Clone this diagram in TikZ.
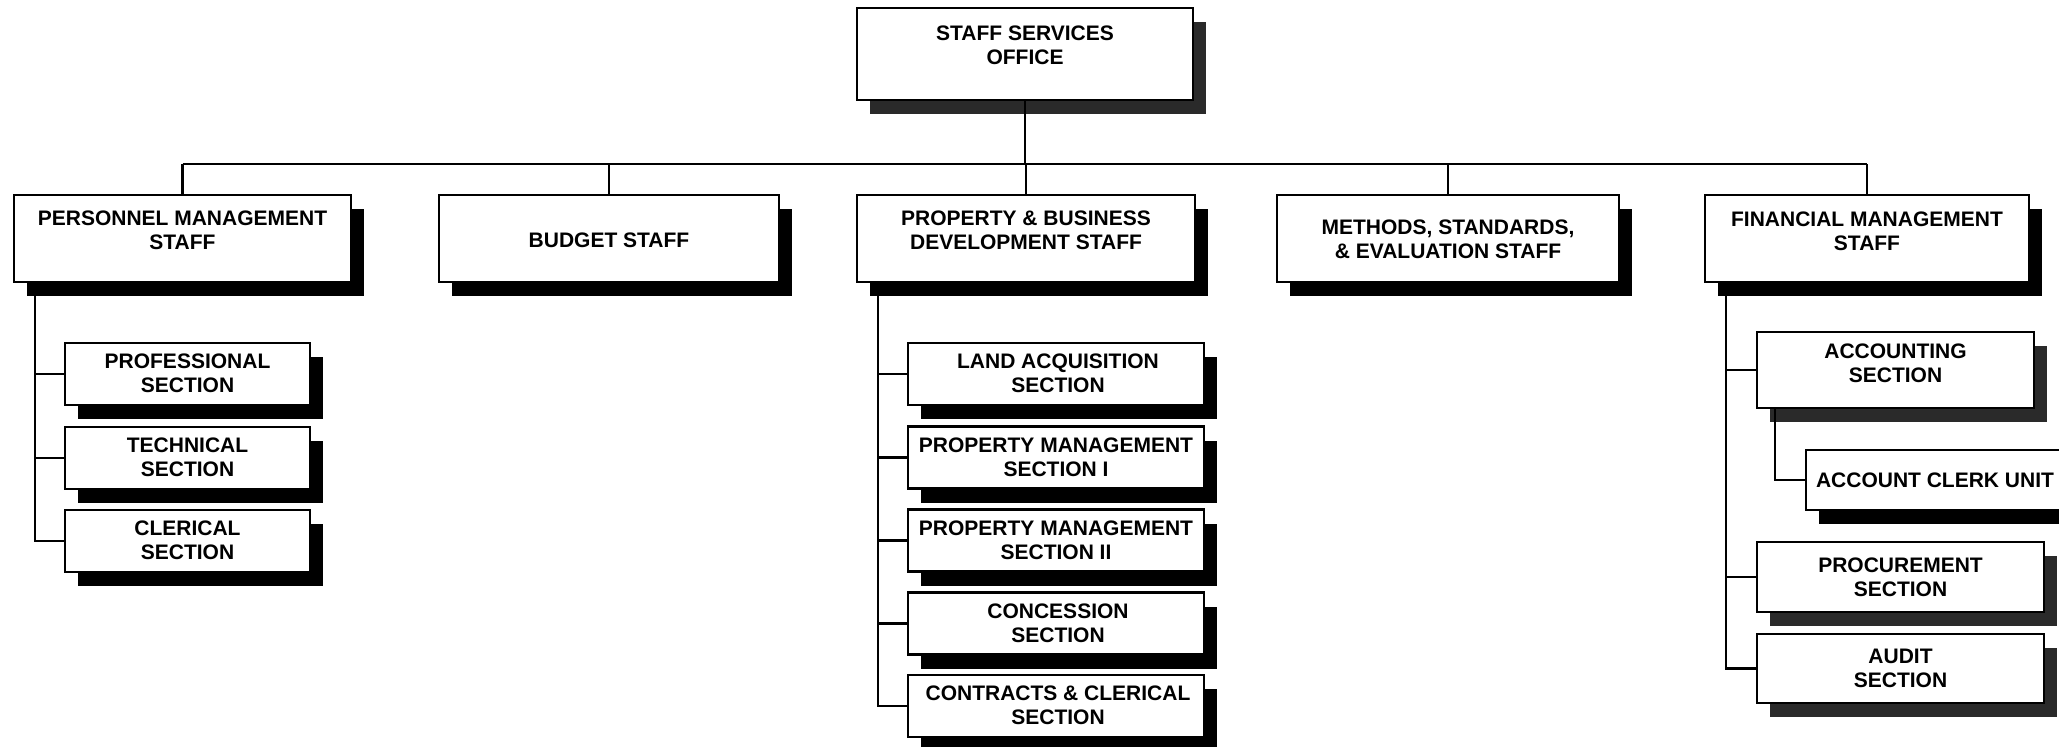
\documentclass[tikz,border=0pt]{standalone}
\usepackage{fontspec}
\setmainfont{Liberation Sans}
\usetikzlibrary{shadows}
\definecolor{shgray}{HTML}{2A2A2A}
\tikzset{
  orgbox/.style={draw=black, line width=2.6pt, fill=white, rectangle, inner sep=0pt,
    general shadow={fill=#1, shadow xshift=13pt, shadow yshift=-14pt}},
  orgbox/.default=black,
  lbl/.style={font=\fontsize{21}{24}\selectfont\bfseries, align=center, inner sep=0pt},
  conn/.style={line width=2.6pt},
}
\begin{document}
\begin{tikzpicture}[x=1pt,y=-1pt]
\useasboundingbox (0,0) rectangle (2059,747);
% top
\node[orgbox=shgray, minimum width=336pt, minimum height=92pt] (top) at (1025,54) {};
\node[lbl] (topt) at (1025,45.5) {STAFF SERVICES\\OFFICE};
% staff level
\node[orgbox, minimum width=337pt, minimum height=87pt] (pm) at (182.5,238.5) {};
\node[lbl] (pmt) at (182.5,230.5) {PERSONNEL MANAGEMENT\\STAFF};
\node[orgbox, minimum width=340pt, minimum height=87pt] (bs) at (609,238.5) {};
\node[lbl] (bst) at (609,240) {BUDGET STAFF};
\node[orgbox, minimum width=338pt, minimum height=87pt] (pb) at (1026,238.5) {};
\node[lbl] (pbt) at (1026,230.5) {PROPERTY \& BUSINESS\\DEVELOPMENT STAFF};
\node[orgbox, minimum width=342pt, minimum height=87pt] (ms) at (1448,238.5) {};
\node[lbl] (mst) at (1448,239) {METHODS, STANDARDS,\\\& EVALUATION STAFF};
\node[orgbox, minimum width=324pt, minimum height=87pt] (fm) at (1867,238.5) {};
\node[lbl] (fmt) at (1867,231) {FINANCIAL MANAGEMENT\\STAFF};
% personnel subs
\node[orgbox, minimum width=245pt, minimum height=62pt] (pr) at (187.5,374) {};
\node[lbl] (prt) at (187.5,373.5) {PROFESSIONAL\\SECTION};
\node[orgbox, minimum width=245pt, minimum height=62pt] (te) at (187.5,458) {};
\node[lbl] (tet) at (187.5,457.5) {TECHNICAL\\SECTION};
\node[orgbox, minimum width=245pt, minimum height=62pt] (cl) at (187.5,541) {};
\node[lbl] (clt) at (187.5,540.5) {CLERICAL\\SECTION};
% property subs
\node[orgbox, minimum width=296pt, minimum height=62pt] (la) at (1056,374) {};
\node[lbl] (lat) at (1058,373.5) {LAND ACQUISITION\\SECTION};
\node[orgbox, minimum width=296pt, minimum height=62pt] (p1) at (1056,457.5) {};
\node[lbl] (p1t) at (1056,457) {PROPERTY MANAGEMENT\\SECTION I};
\node[orgbox, minimum width=296pt, minimum height=62pt] (p2) at (1056,540.5) {};
\node[lbl] (p2t) at (1056,540) {PROPERTY MANAGEMENT\\SECTION II};
\node[orgbox, minimum width=296pt, minimum height=62pt] (co) at (1056,623.5) {};
\node[lbl] (cot) at (1058,623) {CONCESSION\\SECTION};
\node[orgbox, minimum width=296pt, minimum height=62pt] (cc) at (1056,706) {};
\node[lbl] (cct) at (1058,705.5) {CONTRACTS \& CLERICAL\\SECTION};
% financial subs
\node[orgbox=shgray, minimum width=277pt, minimum height=76pt] (ac) at (1895.5,370) {};
\node[lbl] (act) at (1895.5,363) {ACCOUNTING\\SECTION};
\node[orgbox, minimum width=258pt, minimum height=60pt] (cu) at (1935,480) {};
\node[lbl] (cut) at (1935,480) {ACCOUNT CLERK UNIT};
\node[orgbox=shgray, minimum width=287pt, minimum height=70pt] (pc) at (1900.5,577) {};
\node[lbl] (pct) at (1900.5,577) {PROCUREMENT\\SECTION};
\node[orgbox=shgray, minimum width=287pt, minimum height=69pt] (au) at (1900.5,668.5) {};
\node[lbl] (aut) at (1900.5,668) {AUDIT\\SECTION};
% connectors: top level bus
\coordinate (busL) at (182.5,164);
\coordinate (busR) at (1867,164);
\draw[conn] (busL) -- (busR);
\draw[conn] (top.south) -- (top.south |- busL);
\draw[conn] (pm.north) -- (pm.north |- busL);
\draw[conn] (bs.north) -- (bs.north |- busL);
\draw[conn] (pb.north) -- (pb.north |- busL);
\draw[conn] (ms.north) -- (ms.north |- busL);
\draw[conn] (fm.north) -- (fm.north |- busL);
% personnel trunk
\coordinate (pmtr) at (35,282);
\draw[conn] (pmtr) |- (cl.west);
\draw[conn] (pmtr |- pr.west) -- (pr.west);
\draw[conn] (pmtr |- te.west) -- (te.west);
% property trunk
\coordinate (pbtr) at (878,282);
\draw[conn] (pbtr) |- (cc.west);
\draw[conn] (pbtr |- la.west) -- (la.west);
\draw[conn] (pbtr |- p1.west) -- (p1.west);
\draw[conn] (pbtr |- p2.west) -- (p2.west);
\draw[conn] (pbtr |- co.west) -- (co.west);
% financial trunk
\coordinate (fmtr) at (1726,282);
\draw[conn] (fmtr) |- (au.west);
\draw[conn] (fmtr |- ac.west) -- (ac.west);
\draw[conn] (fmtr |- pc.west) -- (pc.west);
\coordinate (actr) at (1775,408);
\draw[conn] (actr) |- (cu.west);
\end{tikzpicture}
\end{document}
